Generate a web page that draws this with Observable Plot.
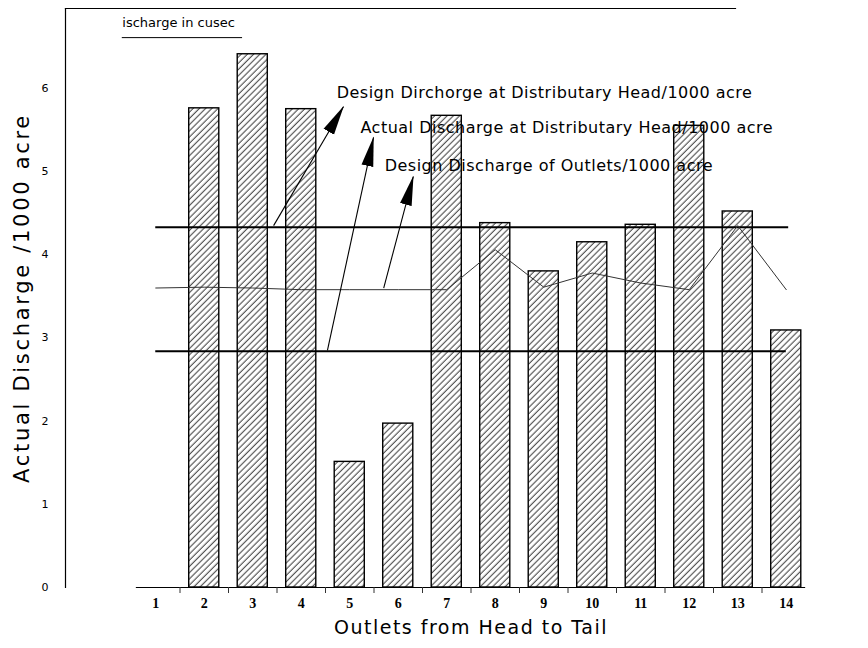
<!DOCTYPE html>
<html><head><meta charset="utf-8">
<script src="https://cdn.jsdelivr.net/npm/d3@7"></script>
<script src="https://cdn.jsdelivr.net/npm/@observablehq/plot@0.6"></script>
<style>body{margin:0;background:#fff}</style>
</head><body>
<svg width="0" height="0" style="position:absolute">
<defs>
<pattern id="hatch" width="4.4" height="4.4" patternUnits="userSpaceOnUse" patternTransform="rotate(45)">
<rect width="4.4" height="4.4" fill="#fff"/>
<line x1="2" y1="0" x2="2" y2="4.4" stroke="#222" stroke-width="0.9"/>
</pattern>
<marker id="head" markerUnits="userSpaceOnUse" viewBox="0 -7 30 14" refX="29" refY="0" markerWidth="30" markerHeight="14" orient="auto">
<path d="M0,-6L30,0L0,6Z" fill="#000"/>
</marker>
</defs></svg>
<div id="chart"></div>
<script>
// ---- data ----
const outlets = [1, 2, 3, 4, 5, 6, 7, 8, 9, 10, 11, 12, 13, 14];
const actualDischarge = [null, 5.76, 6.41, 5.75, 1.51, 1.97, 5.67, 4.38, 3.80, 4.15, 4.36, 5.55, 4.52, 3.09];
const designOutletDischarge = [3.60, 3.61, 3.60, 3.58, 3.58, 3.58, 3.58, 4.06, 3.61, 3.78, 3.66, 3.58, 4.35, 3.58];
const designHeadDischarge = 4.33;
const actualHeadDischarge = 2.84;
const yTicks = [0, 1, 2, 3, 4, 5, 6];

// ---- annotations (data units) ----
const annoText = [
  "Design Dirchorge at Distributary Head/1000 acre",
  "Actual Discharge at Distributary Head/1000 acre",
  "Design Discharge of Outlets/1000 acre"
];
const annoX = [4.73, 5.22, 5.72];
const annoY = [5.95, 5.53, 5.07];
const arrowFromX = [3.43, 4.54, 5.70];
const arrowFromY = [4.35, 2.85, 3.60];
const arrowToX = [4.87, 5.49, 6.31];
const arrowToY = [5.78, 5.41, 4.94];

const rows = outlets.map((o, i) => ({outlet: o, actual: actualDischarge[i], design: designOutletDischarge[i]}));
const bars = rows.filter(d => d.actual != null);
const annos = annoText.map((t, i) => ({t, x: annoX[i], y: annoY[i], x1: arrowFromX[i], y1: arrowFromY[i], x2: arrowToX[i], y2: arrowToY[i]}));
const mids = outlets.slice(0, -1).map(o => o + 0.5);

const yTitle = "Actual Discharge /1000 acre";
const xTitle = "Outlets from Head to Tail";
const corner = "ischarge in cusec";

const sans = "DejaVu Sans";
const plot = Plot.plot({
  width: 868,
  height: 648,
  marginTop: 8,
  marginBottom: 61,
  marginLeft: 65,
  marginRight: 133,
  style: {background: "#fff", fontFamily: sans},
  x: {type: "linear", domain: [0.5, 14.5], range: [131, 810], axis: null},
  y: {domain: [0, 6.96], axis: null},
  marks: [
    Plot.frame({anchor: "left", stroke: "#000", strokeWidth: 1.2}),
    Plot.frame({anchor: "top", stroke: "#000", strokeWidth: 1.2}),
    Plot.rectY(bars, {x1: d => d.outlet - 0.31, x2: d => d.outlet + 0.31, y1: 0, y2: "actual", fill: "url(#hatch)", stroke: "#000", strokeWidth: 1.4}),
    Plot.ruleY([0], {x1: 0.6, x2: 14.4, stroke: "#000", strokeWidth: 1.2}),
    Plot.axisX({ticks: mids, tickSize: 6, tickFormat: () => "", stroke: "#333"}),
    Plot.axisX({ticks: outlets, tickSize: 0, tickPadding: 11, fontSize: 14, fontFamily: "Liberation Serif", fontWeight: "bold", fill: "#000"}),
    Plot.axisY({ticks: yTicks, tickSize: 0, tickPadding: 17, tickFormat: "d", fontSize: 11, fill: "#000", label: null}),
    Plot.ruleY([designHeadDischarge], {x1: 1, x2: 14.05, stroke: "#000", strokeWidth: 2}),
    Plot.ruleY([actualHeadDischarge], {x1: 1, x2: 14, stroke: "#000", strokeWidth: 2}),
    Plot.line(rows, {x: "outlet", y: "design", stroke: "#333", strokeWidth: 1}),
    Plot.link(annos, {x1: "x1", y1: "y1", x2: "x2", y2: "y2", stroke: "#000", strokeWidth: 1.1}),
    Plot.text(annos, {x: "x", y: "y", text: "t", textAnchor: "start", fontSize: 16, fill: "#000"}),
    Plot.text([corner], {x: 0.31, y: 6.79, textAnchor: "start", fontSize: 13, fill: "#000"}),
    Plot.ruleY([6.61], {x1: 0.31, x2: 2.79, stroke: "#000", strokeWidth: 1}),
    Plot.text([yTitle], {frameAnchor: "left", textAnchor: "middle", rotate: -90, dx: -43, fontSize: 21, fill: "#000"}),
    Plot.text([xTitle], {x: 7.5, frameAnchor: "bottom", textAnchor: "middle", dy: 46, fontSize: 19, fill: "#000"})
  ]
});
const svg = d3.select(plot);
svg.selectAll('g[aria-label="link"] path').attr("marker-end", "url(#head)");
const spacing = new Map([[yTitle, "2.7px"], [xTitle, "1.5px"]]);
annoText.forEach(t => spacing.set(t, "0.5px"));
svg.selectAll("text").each(function () {
  const s = spacing.get(this.textContent);
  if (s) this.setAttribute("letter-spacing", s);
});
document.getElementById("chart").appendChild(plot);
</script>
</body></html>
